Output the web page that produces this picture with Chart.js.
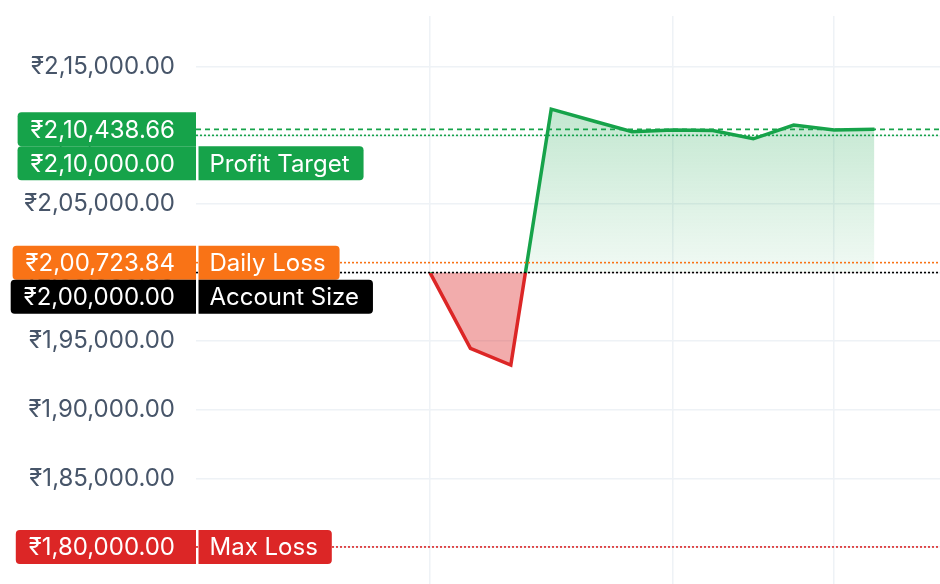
<!DOCTYPE html>
<html>
<head>
<meta charset="utf-8">
<script src="https://cdn.jsdelivr.net/npm/chart.js@4"></script>
<style>
  html, body { margin: 0; padding: 0; background: #ffffff; }
  #wrap { width: 940px; height: 584px; position: relative; }
</style>
</head>
<body>
<div id="wrap"><canvas id="c"></canvas></div>
<script>
// ---- data ----
const days = [0, 1, 2, 3, 4, 5, 6, 7, 8, 9, 10, 11];
const balance = [200000, 194480, 193260, 211910, 211080, 210260, 210384, 210360, 209750, 210750, 210384, 210438.66];
const yTicks = [180000, 185000, 190000, 195000, 200000, 205000, 210000, 215000];
const xGridDays = [0, 6, 10];
const baseline = 200000;

const levelValues = [210438.66, 210000, 200723.84, 200000, 180000];
const levelNames = ['', 'Profit Target', 'Daily Loss', 'Account Size', 'Max Loss'];
const levelColors = ['#16a34a', '#16a34a', '#f97316', '#000000', '#dc2626'];
const levelStyles = ['dashed', 'dotted', 'dotted', 'dotted', 'dotted'];

const FONT = 'Inter, "Noto Sans", "DejaVu Sans", sans-serif';
const FONT_SIZE = 24;

function inr(v) {
  const s = Math.abs(v).toFixed(2);
  let [intPart, dec] = s.split('.');
  const last3 = intPart.slice(-3);
  let rest = intPart.slice(0, -3);
  if (rest) rest = rest.replace(/\B(?=(\d{2})+(?!\d))/g, ',') + ',';
  return '₹' + rest + last3 + '.' + dec;
}

function roundRect(ctx, x, y, w, h, r) {
  const [tl, tr, br, bl] = r;
  ctx.beginPath();
  ctx.moveTo(x + tl, y);
  ctx.lineTo(x + w - tr, y);
  ctx.quadraticCurveTo(x + w, y, x + w, y + tr);
  ctx.lineTo(x + w, y + h - br);
  ctx.quadraticCurveTo(x + w, y + h, x + w - br, y + h);
  ctx.lineTo(x + bl, y + h);
  ctx.quadraticCurveTo(x, y + h, x, y + h - bl);
  ctx.lineTo(x, y + tl);
  ctx.quadraticCurveTo(x, y, x + tl, y);
  ctx.closePath();
}

const levelsPlugin = {
  id: 'levels',
  afterDatasetsDraw(chart) {
    const {ctx, chartArea, scales: {y}} = chart;
    ctx.save();
    levelValues.forEach((v, i) => {
      const py = y.getPixelForValue(v);
      ctx.beginPath();
      ctx.setLineDash(levelStyles[i] === 'dashed' ? [5, 4] : [2, 2]);
      ctx.lineWidth = 1.6;
      ctx.strokeStyle = levelColors[i];
      ctx.moveTo(chartArea.left, py);
      ctx.lineTo(chartArea.right, py);
      ctx.stroke();
    });
    ctx.setLineDash([]);
    const H = 34;
    const order = levelValues.map((v, i) => ({i, cy: y.getPixelForValue(v)}))
      .sort((a, b) => a.cy - b.cy);
    let prevBottom = -Infinity;
    ctx.font = FONT_SIZE + 'px ' + FONT;
    ctx.textBaseline = 'middle';
    order.forEach(o => {
      let cy = o.cy;
      if (cy - H / 2 < prevBottom) cy = prevBottom + H / 2;
      prevBottom = cy + H / 2;
      const i = o.i;
      const txt = inr(levelValues[i]);
      const tw = ctx.measureText(txt).width;
      const textRight = chartArea.left - 21;
      const boxLeft = textRight - tw - 13;
      ctx.fillStyle = levelColors[i];
      roundRect(ctx, boxLeft, cy - H / 2, chartArea.left - boxLeft, H, [4, 0, 0, 4]);
      ctx.fill();
      ctx.fillStyle = '#ffffff';
      ctx.textAlign = 'right';
      ctx.fillText(txt, textRight, cy + 1);
      if (levelNames[i]) {
        const nw = ctx.measureText(levelNames[i]).width;
        const nx = chartArea.left + 2.5;
        ctx.fillStyle = levelColors[i];
        roundRect(ctx, nx, cy - H / 2, nw + 25, H, [0, 4, 4, 0]);
        ctx.fill();
        ctx.fillStyle = '#ffffff';
        ctx.textAlign = 'left';
        ctx.fillText(levelNames[i], nx + 11, cy + 1);
      }
    });
    ctx.restore();
  }
};

function lineGradient(context) {
  const chart = context.chart;
  const {chartArea, scales} = chart;
  if (!chartArea || !scales.y) return '#16a34a';
  const py = scales.y.getPixelForValue(baseline);
  const g = chart.ctx.createLinearGradient(0, chartArea.top, 0, chartArea.bottom);
  const f = Math.min(1, Math.max(0, (py - chartArea.top) / (chartArea.bottom - chartArea.top)));
  g.addColorStop(0, '#16a34a');
  g.addColorStop(f, '#16a34a');
  g.addColorStop(f, '#dc2626');
  g.addColorStop(1, '#dc2626');
  return g;
}

function fillGradient(context) {
  const chart = context.chart;
  const {chartArea, scales} = chart;
  if (!chartArea || !scales.y) return 'rgba(22,163,74,0.15)';
  const top = scales.y.getPixelForValue(Math.max(...balance));
  const bot = scales.y.getPixelForValue(baseline);
  const g = chart.ctx.createLinearGradient(0, top, 0, bot);
  g.addColorStop(0, 'rgba(22,163,74,0.26)');
  g.addColorStop(1, 'rgba(22,163,74,0.06)');
  return g;
}

new Chart(document.getElementById('c'), {
  type: 'line',
  data: {
    datasets: [{
      data: days.map((d, i) => ({x: d, y: balance[i]})),
      borderColor: lineGradient,
      backgroundColor: fillGradient,
      borderWidth: 3.5,
      pointRadius: 0,
      tension: 0,
      fill: {target: {value: baseline}, below: 'rgba(220,38,38,0.38)'}
    }]
  },
  options: {
    responsive: true,
    maintainAspectRatio: false,
    animation: false,
    layout: {padding: {top: 16, right: 0, bottom: 0, left: 0}},
    plugins: {legend: {display: false}, tooltip: {enabled: false}},
    scales: {
      x: {
        type: 'linear',
        min: -5.79,
        max: 12.62,
        afterBuildTicks: s => { s.ticks = xGridDays.map(v => ({value: v})); },
        afterFit: s => { s.height = 0; s.paddingLeft = 0; s.paddingRight = 0; },
        ticks: {display: false},
        grid: {color: '#eef2f6', lineWidth: 1.5, drawTicks: false},
        border: {display: false}
      },
      y: {
        min: 177300,
        max: 218700,
        afterBuildTicks: s => { s.ticks = yTicks.map(v => ({value: v})); },
        afterFit: s => { s.width = 196; s.paddingTop = 0; s.paddingBottom = 0; },
        ticks: {
          callback: v => inr(v),
          font: {family: FONT, size: FONT_SIZE},
          color: '#475569',
          padding: 21
        },
        grid: {color: '#eef2f6', lineWidth: 1.5, drawTicks: false},
        border: {display: false}
      }
    }
  },
  plugins: [levelsPlugin]
});
</script>
</body>
</html>
